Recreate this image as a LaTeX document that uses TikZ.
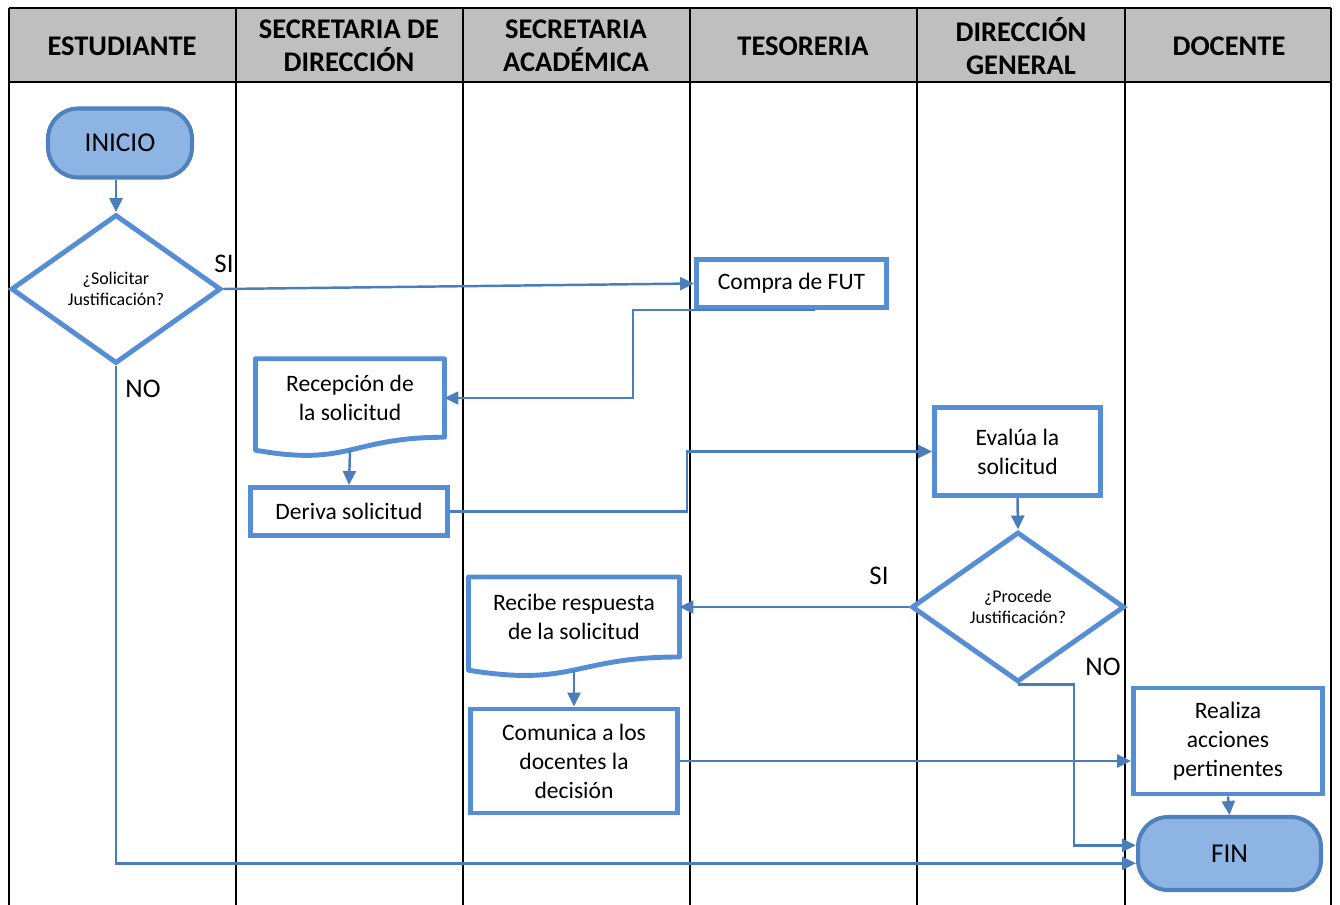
\documentclass[tikz,border=0pt]{standalone}
\usepackage{fontspec}
\setmainfont{Carlito}
\usetikzlibrary{shapes.geometric,arrows.meta,calc}

\definecolor{headgray}{RGB}{191,191,191}
\definecolor{boxblue}{RGB}{85,142,213}
\definecolor{lineblue}{RGB}{74,126,187}
\definecolor{termfill}{RGB}{142,180,227}
\definecolor{termline}{RGB}{79,129,189}

\tikzset{
  lane/.style={line width=1.1pt,black},
  head/.style={font=\fontsize{16.2}{18.6}\selectfont\bfseries,align=center},
  proc/.style={draw=boxblue,line width=2.8pt,fill=white,align=center,inner sep=0pt,
    font=\fontsize{13.4}{16.5}\selectfont},
  docu/.style={proc,draw=none,fill=none,outer sep=0pt},
  term/.style={draw=termline,fill=termfill,line width=2.3pt,rounded corners=0.6cm,
    inner sep=0pt,font=\fontsize{15.5}{18}\selectfont},
  decision/.style={diamond,draw=boxblue,line width=2.8pt,fill=white,align=center,
    inner sep=0pt,font=\fontsize{10.2}{12}\selectfont},
  conn/.style={draw=lineblue,line width=1.4pt,-{Triangle[length=0.28cm,width=0.26cm]}},
  tag/.style={font=\fontsize{15.3}{18}\selectfont,inner sep=0pt}
}

\begin{document}
\begin{tikzpicture}[x=0.02cm,y=-0.02cm]
\useasboundingbox (0,0) rectangle (1340,905);

% carriles
\fill[headgray] (9,8) rectangle (1331,82);
\draw[lane] (9,8) -- (1331,8);
\draw[lane] (9,82) -- (1331,82);
\foreach \x in {9,236,463,690,917,1125,1331}
{
	\draw[lane] (\x,8) -- (\x,905);
}
\foreach \x/\t [count=\i] in {122/ESTUDIANTE,349/{SECRETARIA DE\\DIRECCIÓN},
  576/{SECRETARIA\\ACADÉMICA},803/TESORERIA,1021/{DIRECCIÓN\\GENERAL},1229/DOCENTE}
{
	\node[head] (h\i) at (\x,46) {\t};
}

% pasos
\node[term,minimum width=2.88cm,minimum height=1.38cm] (ini) at (120,143) {INICIO};
\node[decision,minimum width=4.2cm,minimum height=2.98cm] (q1) at (116,289) {¿Solicitar\\Justificación?};
\node[proc,minimum width=3.8cm,minimum height=0.96cm] (fut) at (791.5,283.5) {Compra de FUT};
\node[docu,minimum width=3.78cm,minimum height=1.57cm] (rec) at (350,398) {Recepción de\\la solicitud};
\node[proc,minimum width=3.94cm,minimum height=0.96cm] (der) at (349,511.5) {Deriva solicitud};
\node[proc,minimum width=3.32cm,minimum height=1.76cm] (eva) at (1017.5,451.5) {Evalúa la\\solicitud};
\node[decision,minimum width=4.26cm,minimum height=3cm] (q2) at (1018,607) {¿Procede\\Justificación?};
\node[docu,minimum width=4.22cm,minimum height=1.6cm] (rcb) at (574,617) {Recibe respuesta\\de la solicitud};
\node[proc,minimum width=4.14cm,minimum height=2.08cm] (com) at (574,761) {Comunica a los\\docentes la\\decisión};
\node[proc,minimum width=3.78cm,minimum height=2.12cm] (rea) at (1228,741) {Realiza\\acciones\\pertinentes};
\node[term,minimum width=3.66cm,minimum height=1.46cm] (fin) at (1229.5,853.5) {FIN};

% documentos con borde ondulado
\foreach \n in {rec,rcb}
{
	\draw[boxblue,line width=2.8pt,line join=round] (\n.north west) -- (\n.north east) -- (\n.south east)
	  .. controls (\n.south) and ($(\n.north)!1.38!(\n.south)$) .. ($(\n.north west)!1.165!(\n.south west)$) -- cycle;
}

\node[tag] (si1) at (224,264) {SI};
\node[tag] (no1) at (143,389) {NO};
\node[tag] (si2) at (879,576) {SI};
\node[tag] (no2) at (1103,667) {NO};

% flechas
\draw[conn] (ini.south -| q1.north) -- (q1.north);
\draw[conn] (q1.east) -- (fut.west);
\draw[conn] ($(fut.south west)!0.62!(fut.south east)$) -- ++(-182,0) |- (rec.east);
\draw[conn] ($(rec.north)!1.163!(rec.south)$) -- (der.north);
\draw[conn] (der.east) -- ++(237,0) |- (eva.west);
\draw[conn] (eva.south) -- (q2.north);
\draw[conn] (q2.west) -- (q2.west -| rcb.east);
\draw[conn] ($(rcb.north)!1.163!(rcb.south)$) -- (com.north);
\draw[conn] (com.east) -- (com.east -| rea.west);
\draw[conn] (rea.south) -- (fin.north);
\draw[conn] (q2.south) -- ++(56,0) |- (fin.175);
\draw[conn] (q1.south) |- (fin.186);

\end{tikzpicture}
\end{document}
